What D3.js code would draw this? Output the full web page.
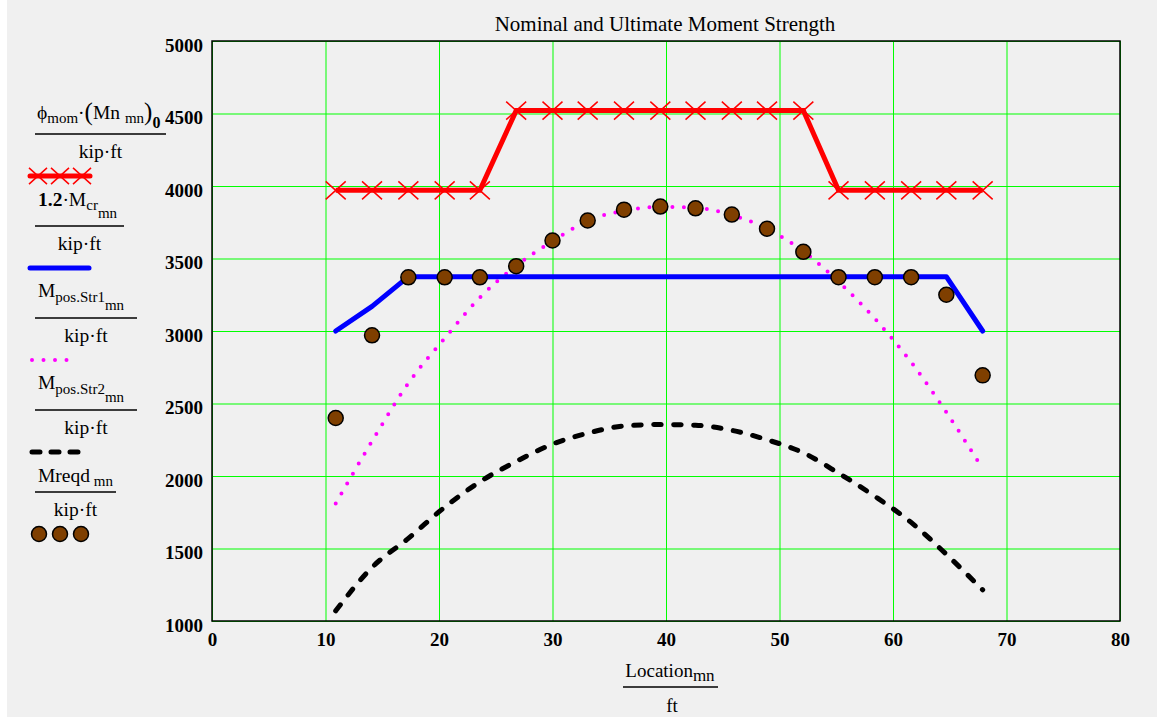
<!DOCTYPE html>
<html>
<head>
<meta charset="utf-8">
<script src="https://cdn.jsdelivr.net/npm/d3@7"></script>
<style>
  body { margin: 0; background: #f0f0f0; }
  svg { display: block; }
  text { font-family: "Liberation Serif", "Times New Roman", serif; }
</style>
</head>
<body>
<div id="chart"></div>
<script>
// donnees
var location_mn = [10.9, 14.1, 17.3, 20.5, 23.6, 26.8, 30.0, 33.1, 36.3, 39.5, 42.6, 45.8, 48.9, 52.1, 55.2, 58.4, 61.6, 64.7, 67.9];
var phiMn = [3970, 3970, 3970, 3970, 3970, 4520, 4520, 4520, 4520, 4520, 4520, 4520, 4520, 4520, 3970, 3970, 3970, 3970, 3970];
var Mcr12 = [3000, 3170, 3375, 3375, 3375, 3375, 3375, 3375, 3375, 3375, 3375, 3375, 3375, 3375, 3375, 3375, 3375, 3375, 3000];
var MposStr1 = [1810, 2240, 2640, 2950, 3230, 3450, 3620, 3760, 3830, 3855, 3850, 3800, 3705, 3550, 3340, 3085, 2785, 2440, 2050];
var MposStr2 = [1070, 1370, 1570, 1785, 1960, 2100, 2220, 2295, 2345, 2355, 2350, 2315, 2250, 2160, 2020, 1860, 1680, 1460, 1215];
var Mreqd = [2400, 2970, 3370, 3370, 3370, 3447, 3624, 3762, 3837, 3858, 3846, 3803, 3705, 3546, 3371, 3371, 3371, 3250, 2694];
var xTicks = [0, 10, 20, 30, 40, 50, 60, 70, 80];
var yTicks = [1000, 1500, 2000, 2500, 3000, 3500, 4000, 4500, 5000];

const width = 1157, height = 717;
const plot = { left: 212, right: 1120, top: 41, bottom: 621 };

var svg = d3.select("#chart").append("svg")
  .attr("width", width)
  .attr("height", height);

svg.append("rect").attr("width", width).attr("height", height).attr("fill", "#f0f0f0");
svg.append("rect").attr("width", 7).attr("height", height).attr("fill", "#ffffff");

var x = d3.scaleLinear().domain([0, 80]).range([plot.left, plot.right]);
var y = d3.scaleLinear().domain([1000, 5000]).range([plot.bottom, plot.top]);

// grille verte
svg.append("g")
  .attr("transform", "translate(0," + plot.bottom + ")")
  .call(d3.axisBottom(x).tickValues(xTicks).tickSize(-(plot.bottom - plot.top)).tickFormat(""))
  .call(g => g.select(".domain").remove())
  .selectAll("line").attr("stroke", "#00ff00").attr("stroke-width", 1);
svg.append("g")
  .attr("transform", "translate(" + plot.left + ",0)")
  .call(d3.axisLeft(y).tickValues(yTicks).tickSize(-(plot.right - plot.left)).tickFormat(""))
  .call(g => g.select(".domain").remove())
  .selectAll("line").attr("stroke", "#00ff00").attr("stroke-width", 1);

// cadre
svg.append("rect")
  .attr("x", plot.left).attr("y", plot.top)
  .attr("width", plot.right - plot.left).attr("height", plot.bottom - plot.top)
  .attr("fill", "none").attr("stroke", "#000").attr("stroke-width", 1.5);

// etiquettes des axes
var xa = svg.append("g")
  .attr("transform", "translate(0," + plot.bottom + ")")
  .call(d3.axisBottom(x).tickValues(xTicks).tickSize(0).tickPadding(12).tickFormat(d3.format("d")));
xa.select(".domain").remove();
xa.selectAll("text").attr("font-size", 19).attr("font-weight", "bold").attr("fill", "#000")
  .attr("font-family", "Liberation Serif, serif");

var ya = svg.append("g")
  .attr("transform", "translate(" + plot.left + ",0)")
  .call(d3.axisLeft(y).tickValues(yTicks).tickSize(0).tickPadding(9).tickFormat(d3.format("d")));
ya.select(".domain").remove();
ya.selectAll("text").attr("font-size", 19).attr("font-weight", "bold").attr("fill", "#000")
  .attr("dy", "0.55em").attr("font-family", "Liberation Serif, serif");

// titre
svg.append("text").attr("x", 665).attr("y", 31).attr("text-anchor", "middle")
  .attr("font-size", 21).text("Nominal and Ultimate Moment Strength");

// titre axe x
var xl = svg.append("text").attr("x", 670).attr("y", 677).attr("text-anchor", "middle").attr("font-size", 19);
xl.append("tspan").text("Location");
xl.append("tspan").attr("font-size", 17).attr("dy", 4).text("mn");
svg.append("line").attr("x1", 623).attr("x2", 718).attr("y1", 687).attr("y2", 687)
  .attr("stroke", "#000").attr("stroke-width", 1.5);
svg.append("text").attr("x", 672).attr("y", 712).attr("text-anchor", "middle").attr("font-size", 19).text("ft");

var data = location_mn.map(function (d, i) {
  return { loc: d, phi: phiMn[i], mcr: Mcr12[i], s1: MposStr1[i], s2: MposStr2[i], req: Mreqd[i] };
});

function ligne(key, curve) {
  return d3.line().x(d => x(d.loc)).y(d => y(d[key])).curve(curve || d3.curveLinear);
}

// courbe pointillee magenta
svg.append("path").datum(data)
  .attr("d", ligne("s1", d3.curveMonotoneX))
  .attr("fill", "none").attr("stroke", "#ff00ff").attr("stroke-width", 4)
  .attr("stroke-linecap", "round").attr("stroke-dasharray", "0 11.5");

// courbe tiretee noire
svg.append("path").datum(data)
  .attr("d", ligne("s2", d3.curveMonotoneX))
  .attr("fill", "none").attr("stroke", "#000").attr("stroke-width", 5)
  .attr("stroke-linecap", "round").attr("stroke-dasharray", "7.5 12.5");

// ligne bleue
svg.append("path").datum(data)
  .attr("d", ligne("mcr"))
  .attr("fill", "none").attr("stroke", "#0000ff").attr("stroke-width", 5)
  .attr("stroke-linejoin", "round").attr("stroke-linecap", "round");

// ligne rouge + croix
svg.append("path").datum(data)
  .attr("d", ligne("phi"))
  .attr("fill", "none").attr("stroke", "#ff0000").attr("stroke-width", 5);

function croix(g, cx, cy, s) {
  g.append("path")
    .attr("d", "M" + (cx - s) + "," + (cy - s * 0.9) + "L" + (cx + s) + "," + (cy + s * 0.9) +
               "M" + (cx - s) + "," + (cy + s * 0.9) + "L" + (cx + s) + "," + (cy - s * 0.9))
    .attr("stroke", "#ff0000").attr("stroke-width", 1.5).attr("fill", "none");
}
var marks = svg.append("g");
data.forEach(function (d) { croix(marks, x(d.loc), y(d.phi), 10); });

// cercles marron
svg.append("g").selectAll("circle")
  .data(data)
  .join("circle")
  .attr("cx", d => x(d.loc))
  .attr("cy", d => y(d.req))
  .attr("r", 7.5)
  .attr("fill", "#7f3f00")
  .attr("stroke", "#000")
  .attr("stroke-width", 1.5);

// legende a gauche
var leg = svg.append("g");
function fraction(lineY, x1, x2, kipY) {
  leg.append("line").attr("x1", x1).attr("x2", x2).attr("y1", lineY).attr("y2", lineY)
    .attr("stroke", "#000").attr("stroke-width", 1.5);
  var t = leg.append("text").attr("x", (x1 + x2) / 2).attr("y", kipY).attr("text-anchor", "middle").attr("font-size", 19.5);
  t.append("tspan").text("kip");
  t.append("tspan").text("·");
  t.append("tspan").text("ft");
}

// 1 : phi_mom (Mn_mn)_0
var t1 = leg.append("text").attr("x", 37).attr("y", 119).attr("font-size", 19.5);
t1.append("tspan").text("ϕ");
t1.append("tspan").attr("font-size", 15).attr("dy", 4).text("mom");
t1.append("tspan").attr("dy", -4).text("·");
t1.append("tspan").attr("font-size", 25).attr("dy", 1).text("(");
t1.append("tspan").attr("dy", -1).text("Mn ");
t1.append("tspan").attr("font-size", 15).attr("dy", 4).text("mn");
t1.append("tspan").attr("font-size", 25).attr("dy", -3).text(")");
t1.append("tspan").attr("font-size", 16).attr("font-weight", "bold").attr("dy", 8).text("0");
fraction(134, 35, 166, 158);
leg.append("line").attr("x1", 30).attr("x2", 90).attr("y1", 176).attr("y2", 176)
  .attr("stroke", "#ff0000").attr("stroke-width", 5).attr("stroke-linecap", "round");
[38, 60, 82].forEach(function (cx) { croix(leg, cx, 176, 9); });

// 2 : 1.2 M_cr_mn
var t2 = leg.append("text").attr("x", 38).attr("y", 206).attr("font-size", 19.5);
t2.append("tspan").attr("font-weight", "bold").text("1.2");
t2.append("tspan").text("·M");
t2.append("tspan").attr("font-size", 15).attr("dy", 4).text("cr");
t2.append("tspan").attr("font-size", 15).attr("dy", 8).text("mn");
fraction(226, 35, 124, 250);
leg.append("line").attr("x1", 30).attr("x2", 89).attr("y1", 268).attr("y2", 268)
  .attr("stroke", "#0000ff").attr("stroke-width", 5).attr("stroke-linecap", "round");

// 3 : M_pos.Str1_mn
function mpos(yb, label) {
  var t = leg.append("text").attr("x", 38).attr("y", yb).attr("font-size", 19.5);
  t.append("tspan").text("M");
  t.append("tspan").attr("font-size", 15).attr("dy", 5).text(label);
  t.append("tspan").attr("font-size", 15).attr("dy", 8).text("mn");
}
mpos(297, "pos.Str1");
fraction(318, 35, 137, 342);
leg.append("line").attr("x1", 32).attr("x2", 78).attr("y1", 360).attr("y2", 360)
  .attr("stroke", "#ff00ff").attr("stroke-width", 4).attr("stroke-linecap", "round")
  .attr("stroke-dasharray", "0 11.5");

// 4 : M_pos.Str2_mn
mpos(389, "pos.Str2");
fraction(410, 35, 137, 434);
leg.append("line").attr("x1", 32).attr("x2", 80).attr("y1", 452).attr("y2", 452)
  .attr("stroke", "#000").attr("stroke-width", 5).attr("stroke-linecap", "round")
  .attr("stroke-dasharray", "8 11");

// 5 : Mreqd_mn
var t5 = leg.append("text").attr("x", 38).attr("y", 482).attr("font-size", 19.5);
t5.append("tspan").text("Mreqd");
t5.append("tspan").attr("font-size", 15).attr("dy", 4).text(" mn");
fraction(492, 35, 116, 516);
[39, 60, 81].forEach(function (cx) {
  leg.append("circle").attr("cx", cx).attr("cy", 534).attr("r", 7.5)
    .attr("fill", "#7f3f00").attr("stroke", "#000").attr("stroke-width", 1.5);
});
</script>
</body>
</html>
